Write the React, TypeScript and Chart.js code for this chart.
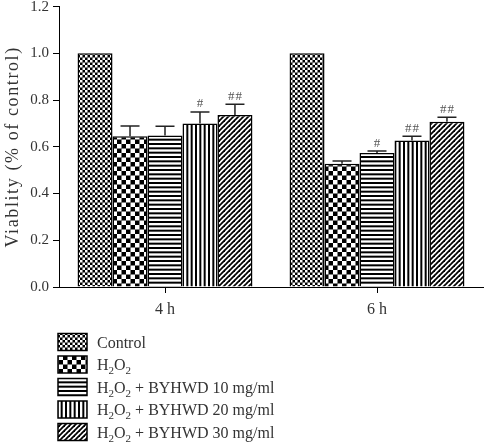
import React, { useEffect, useRef } from "react";
import { Chart, registerables } from "chart.js";

Chart.register(...registerables);

const categories = ["4 h", "6 h"];
const seriesLabels = [
  "Control",
  "H₂O₂",
  "H₂O₂ + BYHWD 10 mg/ml",
  "H₂O₂ + BYHWD 20 mg/ml",
  "H₂O₂ + BYHWD 30 mg/ml",
];
const control = [1.0, 1.0];
const h2o2 = [0.645, 0.527];
const byhwd10 = [0.648, 0.573];
const byhwd20 = [0.7, 0.627];
const byhwd30 = [0.736, 0.707];

const controlErr = [0, 0];
const h2o2Err = [0.044, 0.012];
const byhwd10Err = [0.04, 0.009];
const byhwd20Err = [0.049, 0.018];
const byhwd30Err = [0.046, 0.019];

const controlMarks = ["", ""];
const h2o2Marks = ["", ""];
const byhwd10Marks = ["", "#"];
const byhwd20Marks = ["#", "##"];
const byhwd30Marks = ["##", "##"];

const yTicks = [0, 0.2, 0.4, 0.6, 0.8, 1.0, 1.2];
const yTitle = "Viablity (% of control)";

const FONT = "'Liberation Serif', 'DejaVu Serif', serif";
const TEXT = "#333";

function makePattern(kind: string): CanvasPattern | string {
  const c = document.createElement("canvas");
  let ctx: CanvasRenderingContext2D;
  if (kind === "fine") {
    c.width = 10; c.height = 10;
    ctx = c.getContext("2d")!;
    ctx.fillStyle = "#000"; ctx.fillRect(0, 0, 10, 10);
    ctx.fillStyle = "#fff";
    for (let i = 0; i < 4; i++) for (let j = 0; j < 4; j++) if ((i + j) % 2 === 0) ctx.fillRect(i * 2.5, j * 2.5, 2.5, 2.5);
  } else if (kind === "coarse") {
    c.width = 18; c.height = 18;
    ctx = c.getContext("2d")!;
    ctx.fillStyle = "#000"; ctx.fillRect(0, 0, 18, 18);
    ctx.fillStyle = "#fff";
    for (let i = 0; i < 4; i++) for (let j = 0; j < 4; j++) if ((i + j) % 2 === 0) ctx.fillRect(i * 4.5, j * 4.5, 4.5, 4.5);
  } else if (kind === "h") {
    c.width = 4; c.height = 13;
    ctx = c.getContext("2d")!;
    ctx.fillStyle = "#fff"; ctx.fillRect(0, 0, 4, 13);
    ctx.fillStyle = "#000";
    for (let k = 0; k < 3; k++) ctx.fillRect(0, k * 13 / 3, 4, 2);
  } else if (kind === "v") {
    c.width = 13; c.height = 4;
    ctx = c.getContext("2d")!;
    ctx.fillStyle = "#fff"; ctx.fillRect(0, 0, 13, 4);
    ctx.fillStyle = "#000";
    for (let k = 0; k < 3; k++) ctx.fillRect(k * 13 / 3, 0, 2, 4);
  } else {
    const s = 5;
    c.width = s; c.height = s;
    ctx = c.getContext("2d")!;
    ctx.fillStyle = "#fff"; ctx.fillRect(0, 0, s, s);
    ctx.strokeStyle = "#000"; ctx.lineWidth = 1.8;
    for (const k of [-s, 0, s]) {
      ctx.beginPath(); ctx.moveTo(k - 1, s + 1); ctx.lineTo(k + s + 1, -1); ctx.stroke();
    }
  }
  const main = document.createElement("canvas").getContext("2d")!;
  return main.createPattern(c, "repeat") || "#000";
}

function drawRich(ctx: CanvasRenderingContext2D, text: string, x: number, y: number, size: number) {
  let cx = x;
  for (const ch of text) {
    if (ch === "₂") {
      ctx.font = `${Math.round(size * 0.68)}px ${FONT}`;
      ctx.fillText("2", cx, y + size * 0.25);
      cx += ctx.measureText("2").width;
    } else {
      ctx.font = `${size}px ${FONT}`;
      ctx.fillText(ch, cx, y);
      cx += ctx.measureText(ch).width;
    }
  }
}

export default function App() {
  const ref = useRef<HTMLCanvasElement>(null);
  useEffect(() => {
    const patterns = ["fine", "coarse", "h", "v", "d"].map(makePattern);
    const values = [control, h2o2, byhwd10, byhwd20, byhwd30];
    const errs = [controlErr, h2o2Err, byhwd10Err, byhwd20Err, byhwd30Err];
    const marks = [controlMarks, h2o2Marks, byhwd10Marks, byhwd20Marks, byhwd30Marks];

    const errorPlugin = {
      id: "errs",
      afterDatasetsDraw(chart: any) {
        const ctx = chart.ctx;
        const y = chart.scales.y;
        ctx.save();
        chart.data.datasets.forEach((ds: any, i: number) => {
          const meta = chart.getDatasetMeta(i);
          meta.data.forEach((el: any, j: number) => {
            const e = errs[i][j];
            const top = y.getPixelForValue(ds.data[j] + e);
            if (e > 0) {
              ctx.strokeStyle = "#222";
              ctx.lineWidth = 1.5;
              ctx.beginPath();
              ctx.moveTo(el.x, el.y);
              ctx.lineTo(el.x, top);
              ctx.moveTo(el.x - 9.5, top);
              ctx.lineTo(el.x + 9.5, top);
              ctx.stroke();
            }
            const m = marks[i][j];
            if (m) {
              ctx.fillStyle = "#555";
              ctx.font = `13px ${FONT}`;
              ctx.textAlign = "center";
              ctx.textBaseline = "alphabetic";
              ctx.fillText(m.split("").join("\u200A"), el.x, top - 4.5);
            }
          });
        });
        ctx.restore();
      },
    };

    const titleLegendPlugin = {
      id: "titleLegend",
      afterDraw(chart: any) {
        const ctx = chart.ctx;
        const area = chart.chartArea;
        ctx.save();
        ctx.translate(13, (area.top + area.bottom) / 2);
        ctx.rotate(-Math.PI / 2);
        ctx.fillStyle = TEXT;
        ctx.font = `18px ${FONT}`;
        (ctx as any).letterSpacing = "1.6px";
        ctx.textAlign = "center";
        ctx.textBaseline = "middle";
        ctx.fillText(yTitle, 0, 0);
        ctx.restore();

        ctx.save();
        chart.data.datasets.forEach((ds: any, i: number) => {
          const cy = 342 + i * 22.5;
          const bx = 58, bw = 29, bh = 17;
          ctx.fillStyle = ds.backgroundColor;
          ctx.fillRect(bx, cy - bh / 2, bw, bh);
          ctx.strokeStyle = "#000";
          ctx.lineWidth = 1.5;
          ctx.strokeRect(bx, cy - bh / 2, bw, bh);
          ctx.fillStyle = TEXT;
          ctx.textAlign = "left";
          ctx.textBaseline = "alphabetic";
          drawRich(ctx, ds.label, 97, cy + 5.5, 16);
        });
        ctx.restore();
      },
    };

    const chart = new Chart(ref.current!, {
      type: "bar",
      data: {
        labels: categories,
        datasets: seriesLabels.map((label, i) => ({
          label,
          data: values[i],
          backgroundColor: patterns[i] as any,
          borderColor: "#000",
          borderWidth: 1.5,
          categoryPercentage: 0.825,
          barPercentage: 1.0,
        })),
      },
      options: {
        responsive: false,
        animation: false,
        devicePixelRatio: 1,
        layout: { padding: { left: 0, right: 2, top: 0, bottom: 118 } },
        plugins: { legend: { display: false }, tooltip: { enabled: false } },
        scales: {
          x: {
            offset: true,
            grid: { offset: false, drawOnChartArea: false, drawTicks: true, tickLength: 6, color: "#000", lineWidth: 1 },
            border: { color: "#000", width: 1 },
            ticks: { font: { family: FONT, size: 16 }, color: TEXT, padding: 7 },
            afterFit: (s: any) => { s.height = 40; },
          },
          y: {
            min: 0,
            max: 1.2,
            afterBuildTicks: (s: any) => { s.ticks = yTicks.map((v) => ({ value: v })); },
            grid: { drawOnChartArea: false, drawTicks: true, tickLength: 6, color: "#000", lineWidth: 1 },
            border: { color: "#000", width: 1 },
            ticks: {
              font: { family: FONT, size: 15, lineHeight: 0.35 },
              color: TEXT,
              padding: 4,
              callback: (v: any) => Number(v).toFixed(1),
            },
            afterFit: (s: any) => { s.width = 59; },
          },
        },
      },
      plugins: [errorPlugin, titleLegendPlugin],
    });
    return () => chart.destroy();
  }, []);
  return (
    <div style={{ position: "fixed", left: 0, top: 0, width: 485, height: 445, background: "#fff" }}>
      <canvas ref={ref} width={485} height={445} style={{ display: "block" }} />
    </div>
  );
}
